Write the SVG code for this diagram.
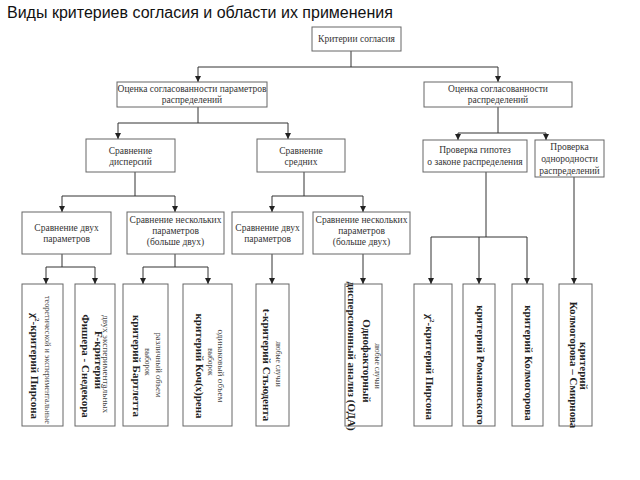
<svg xmlns="http://www.w3.org/2000/svg" width="640" height="480" viewBox="0 0 640 480">
<defs>
<marker id="ah" viewBox="0 0 10 10" refX="10" refY="5" markerWidth="6" markerHeight="6" orient="auto" markerUnits="userSpaceOnUse"><path d="M0,0 L10,5 L0,10 z" fill="#222"/></marker>
<style>
.box{fill:#fff;stroke:#666;stroke-width:1}
.t{font-family:"Liberation Serif","Times New Roman",serif;font-size:9.5px;fill:#333;text-anchor:middle}
.b{font-family:"Liberation Serif","Times New Roman",serif;font-size:11px;font-weight:bold;fill:#222;text-anchor:middle}
.s{font-family:"Liberation Serif","Times New Roman",serif;font-size:7.5px;fill:#444;text-anchor:middle}
.c{fill:none;stroke:#333;stroke-width:1}
.a{marker-end:url(#ah)}
.title{font-family:"Liberation Sans",Arial,sans-serif;font-size:16px;fill:#111}
</style>
</defs>
<rect width="640" height="480" fill="#fff"/>
<text class="title" x="7" y="18">Виды критериев согласия и области их применения</text>

<g id="connectors">
<path class="c a" d="M351,51 V67 H198 V82"/>
<path class="c a" d="M351,67 H498 V82"/>
<path class="c a" d="M198,107 V123 H118 V139"/>
<path class="c a" d="M198,123 H288 V139"/>
<path class="c a" d="M498,107 V133 H458 V140"/>
<path class="c a" d="M498,133 H546 V140"/>
<path class="c a" d="M135,172 V196 H62 V212"/>
<path class="c a" d="M135,196 H175 V212"/>
<path class="c a" d="M304,172 V196 H272 V212"/>
<path class="c a" d="M304,196 H363 V212"/>
<path class="c a" d="M62,254 V267 H46 V284"/>
<path class="c a" d="M62,267 H95 V284"/>
<path class="c a" d="M175,254 V267 H143 V284"/>
<path class="c a" d="M175,267 H208 V284"/>
<path class="c a" d="M272,254 V284"/>
<path class="c a" d="M363,254 V284"/>
<path class="c a" d="M486,172 V237 H431 V284"/>
<path class="c a" d="M486,237 H527 V284"/>
<path class="c a" d="M479,237 V284"/>
<path class="c a" d="M574,177 V284"/>
</g>

<g id="n-root"><rect class="box" x="312" y="27" width="89" height="24"/><text class="t" x="356.5" y="42">Критерии согласия</text></g>
<g id="n-params"><rect class="box" x="117" y="82" width="150" height="25"/><text class="t" x="192" y="92">Оценка согласованности параметров</text><text class="t" x="192" y="103">распределений</text></g>
<g id="n-distr"><rect class="box" x="424" y="82" width="148" height="25"/><text class="t" x="498" y="92">Оценка согласованности</text><text class="t" x="498" y="103">распределений</text></g>
<g id="n-disp"><rect class="box" x="86" y="139" width="89" height="33"/><text class="t" x="130.5" y="154">Сравнение</text><text class="t" x="130.5" y="165">дисперсий</text></g>
<g id="n-mean"><rect class="box" x="257" y="139" width="88" height="33"/><text class="t" x="301" y="154">Сравнение</text><text class="t" x="301" y="165">средних</text></g>
<g id="n-law"><rect class="box" x="423" y="140" width="104" height="32"/><text class="t" x="475" y="153">Проверка гипотез</text><text class="t" x="475" y="165">о законе распределения</text></g>
<g id="n-homog"><rect class="box" x="535" y="140" width="69" height="37"/><text class="t" x="569.5" y="150">Проверка</text><text class="t" x="569.5" y="162">однородности</text><text class="t" x="569.5" y="174">распределений</text></g>

<g id="n-d2"><rect class="box" x="22" y="212" width="89" height="42"/><text class="t" x="66.5" y="231">Сравнение двух</text><text class="t" x="66.5" y="242">параметров</text></g>
<g id="n-dn"><rect class="box" x="127" y="212" width="97" height="42"/><text class="t" x="175.5" y="223">Сравнение нескольких</text><text class="t" x="175.5" y="234">параметров</text><text class="t" x="175.5" y="245">(больше двух)</text></g>
<g id="n-m2"><rect class="box" x="232" y="212" width="71" height="42"/><text class="t" x="267.5" y="231">Сравнение двух</text><text class="t" x="267.5" y="242">параметров</text></g>
<g id="n-mn"><rect class="box" x="313" y="212" width="97" height="42"/><text class="t" x="361.5" y="223">Сравнение нескольких</text><text class="t" x="361.5" y="234">параметров</text><text class="t" x="361.5" y="245">(больше двух)</text></g>

<g id="n-pearson1"><rect class="box" x="22" y="284" width="41" height="142"/>
<text class="s" transform="translate(45.3,360) rotate(90)" textLength="128" lengthAdjust="spacingAndGlyphs">теоретической и экспериментальные</text>
<text class="b" transform="translate(30.5,366) rotate(90)">χ<tspan font-size="7" dy="-4">2</tspan><tspan dy="4">-критерий Пирсона</tspan></text></g>
<g id="n-fisher"><rect class="box" x="75" y="284" width="40" height="142"/>
<text class="s" transform="translate(102.8,364) rotate(90)" textLength="98" lengthAdjust="spacingAndGlyphs">двух экспериментальных</text>
<text class="b" transform="translate(94.5,360) rotate(90)">F-критерий</text>
<text class="b" transform="translate(81.5,366) rotate(90)">Фишера - Снедекора</text></g>
<g id="n-bartlett"><rect class="box" x="123" y="284" width="45" height="142"/>
<text class="s" transform="translate(156.3,365) rotate(90)" textLength="65" lengthAdjust="spacingAndGlyphs">различный объем</text>
<text class="s" transform="translate(145.3,362) rotate(90)">выборок</text>
<text class="b" transform="translate(132.5,366) rotate(90)">критерий Бартлетта</text></g>
<g id="n-cochran"><rect class="box" x="183" y="284" width="49" height="142"/>
<text class="s" transform="translate(218.3,366) rotate(90)" textLength="73" lengthAdjust="spacingAndGlyphs">одинаковый объем</text>
<text class="s" transform="translate(208.3,362) rotate(90)">выборок</text>
<text class="b" transform="translate(195.5,366) rotate(90)">критерий Коч(х)рена</text></g>
<g id="n-student"><rect class="box" x="256" y="284" width="33" height="142"/>
<text class="s" transform="translate(276.3,364) rotate(90)">любые случаи</text>
<text class="b" transform="translate(262.5,365) rotate(90)">t-критерий Стьюдента</text></g>
<g id="n-anova"><rect class="box" x="345" y="284" width="37" height="142"/>
<text class="s" transform="translate(375.3,366) rotate(90)">любые случаи</text>
<text class="b" transform="translate(362.5,361) rotate(90)">Однофакторный</text>
<text class="b" transform="translate(347.5,356) rotate(90)">дисперсионный анализ (ОДА)</text></g>
<g id="n-pearson2"><rect class="box" x="414" y="284" width="38" height="142"/>
<text class="b" transform="translate(425.5,367) rotate(90)">χ<tspan font-size="7" dy="-4">2</tspan><tspan dy="4">-критерий Пирсона</tspan></text></g>
<g id="n-roman"><rect class="box" x="463" y="284" width="32" height="142"/>
<text class="b" transform="translate(476.5,365) rotate(90)">критерий Романовского</text></g>
<g id="n-kolm"><rect class="box" x="512" y="284" width="31" height="142"/>
<text class="b" transform="translate(524.5,363) rotate(90)">критерий Колмогорова</text></g>
<g id="n-ks"><rect class="box" x="559" y="284" width="33" height="142"/>
<text class="b" transform="translate(579.5,366) rotate(90)">критерий</text>
<text class="b" transform="translate(569.5,365) rotate(90)">Колмогорова – Смирнова</text></g>
</svg>
